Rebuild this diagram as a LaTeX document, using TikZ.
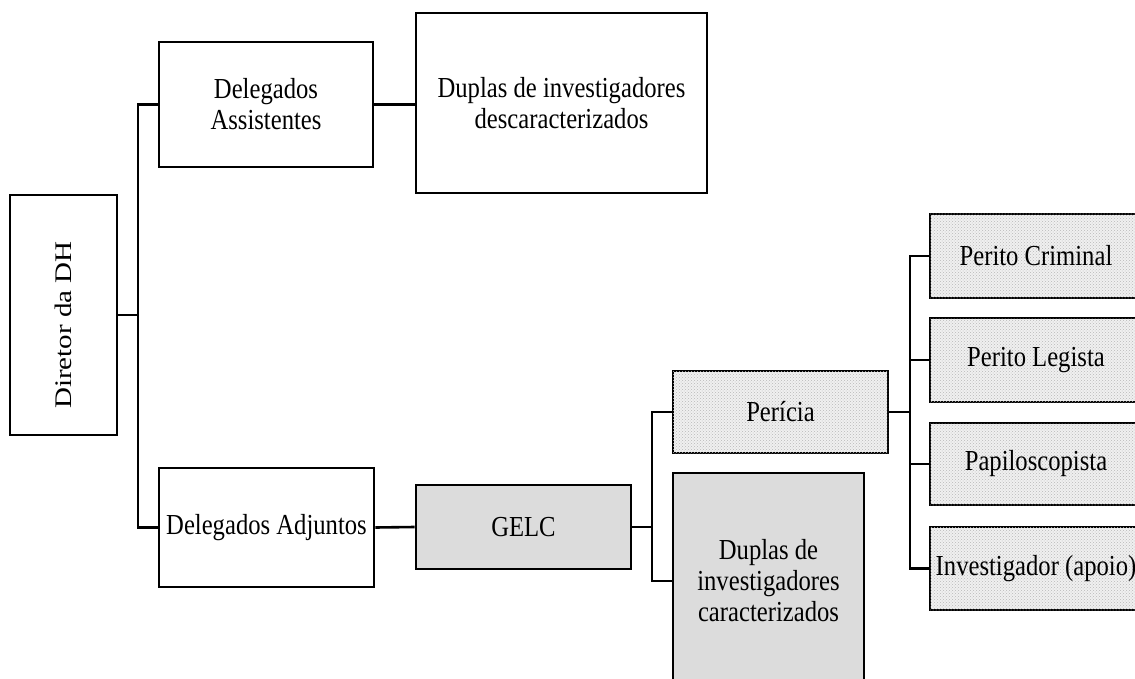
\documentclass[tikz,border=0pt]{standalone}
\usepackage{fontspec}
\usepackage{graphicx}
\setmainfont{Liberation Serif}[FakeStretch=0.85]
\newfontfamily\plainserif{Liberation Serif}
\usetikzlibrary{patterns}
\definecolor{boxgray}{HTML}{DCDCDC}
\definecolor{dotbase}{HTML}{F0F0F0}
\begin{document}
\begin{tikzpicture}[x=1pt,y=-1pt,
  box/.style={draw, line width=2.6pt, align=center, inner sep=0pt, font=\fontsize{29}{31}\selectfont},
  graybox/.style={box, fill=boxgray},
  dotbox/.style={box, fill=dotbase, postaction={pattern=crosshatch dots, pattern color=gray!55}},
  link/.style={line width=2.6pt}]
\useasboundingbox (0,0) rectangle (1135,679);
\clip (0,0) rectangle (1135,679);

\node[box, minimum width=107pt, minimum height=240pt] (dir) at (63.5,315)
  {\rotatebox{90}{\hspace*{-20pt}\scalebox{1}[0.82]{\plainserif\fontsize{29}{31}\selectfont Diretor da DH}}};
\node[box, minimum width=214pt, minimum height=125pt] (ass) at (266,104.5) {Delegados\\Assistentes};
\node[box, minimum width=291pt, minimum height=180pt] (dd) at (561.5,103) {Duplas de investigadores\\descaracterizados};
\node[box, minimum width=215pt, minimum height=119pt] (adj) at (266.5,527.5) {Delegados Adjuntos};
\node[graybox, minimum width=215pt, minimum height=84pt] (gelc) at (523.5,527) {GELC};
\node[dotbox, minimum width=215pt, minimum height=82pt] (per) at (780.5,412) {Perícia};
\node[graybox, minimum width=191pt, minimum height=216pt] (dc) at (768.5,581) {Duplas de\\investigadores\\caracterizados};
\node[dotbox, minimum width=212pt, minimum height=84pt] (pc) at (1036,256) {Perito Criminal};
\node[dotbox, minimum width=212pt, minimum height=84pt] (pl) at (1036,360) {Perito Legista};
\node[dotbox, minimum width=212pt, minimum height=82pt] (pap) at (1036,464) {Papiloscopista};
\node[dotbox, minimum width=212pt, minimum height=83pt] (inv) at (1036,568.5) {Investigador (apoio)};

\coordinate (s1) at (138,315);
\coordinate (s2) at (652,527);
\coordinate (s3) at (910,412);

\draw[link] (dir.east) -- (s1);
\draw[link] (ass.west) -| (s1);
\draw[link] (adj.west) -| (s1);
\draw[link] (ass.east) -- (ass.east -| dd.west);
\draw[link] (adj.east) -- (gelc.west);
\draw[link] (gelc.east) -- (s2);
\draw[link] (per.west) -| (s2);
\draw[link] (dc.west) -| (s2);
\draw[link] (per.east) -- (s3);
\draw[link] (pc.west) -| (s3);
\draw[link] (pl.west) -| (s3);
\draw[link] (pap.west) -| (s3);
\draw[link] (inv.west) -| (s3);
\end{tikzpicture}
\end{document}
